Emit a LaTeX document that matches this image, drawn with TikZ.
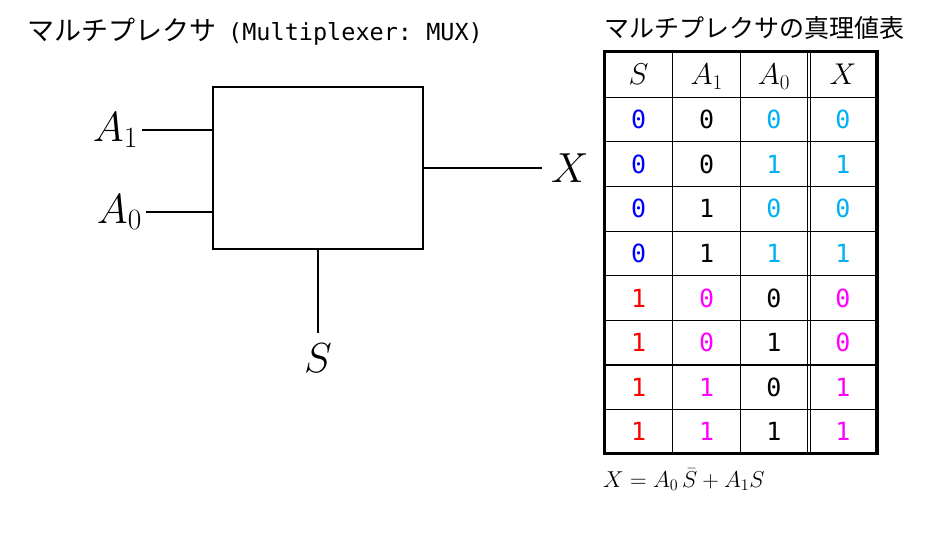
\RequirePackage{fix-cm}
\documentclass[tikz,border=0pt]{standalone}
\usepackage{fontspec}
\newfontfamily\jpfont{Noto Sans CJK JP}
\newfontfamily\bitfont{DejaVu Sans Mono}
\usepackage{xcolor}
\usepackage{tikz}
\usetikzlibrary{positioning, calc}

\definecolor{selblue}{RGB}{0,0,255}
\definecolor{skyblue}{RGB}{0,176,240}
\definecolor{selred}{RGB}{255,0,0}
\definecolor{inmag}{RGB}{255,0,255}

\begin{document}
\begin{tikzpicture}[
    x=1pt, y=-1pt,
    block/.style={draw, line width=2pt, minimum width=210pt, minimum height=162pt, inner sep=0pt},
    wire/.style={line width=1.5pt},
    sig/.style={font=\fontsize{42}{48}\selectfont, inner sep=4pt},
    title/.style={font=\jpfont\fontsize{27}{30}\selectfont, inner sep=0pt},
    head/.style={font=\fontsize{30}{34}\selectfont, inner sep=0pt},
    bit/.style={font=\bitfont\fontsize{25}{28}\selectfont, inner sep=0pt},
    grid/.style={line width=1.2pt},
    frame/.style={line width=3.5pt}
]
\useasboundingbox (0,0) rectangle (928,540);

% titles
\node[title, anchor=base west] (title) at (27,41) {マルチプレクサ\hspace{12pt}{\bitfont\fontsize{23.5}{28}\selectfont\frenchspacing (Multiplexer: MUX)}};
\node[title, font=\jpfont\fontsize{25}{30}\selectfont, anchor=base west] (tabtitle) at (604,38) {マルチプレクサの真理値表};

% MUX block
\node[block] (mux) at (318,168) {};

% inputs, output and select
\node[sig, anchor=east] (a1) at (142,130) {$A_1$};
\node[sig, anchor=east] (a0) at (146,212) {$A_0$};
\node[sig, anchor=west, inner xsep=9pt] (x) at (542,168) {$X$};
\node[sig, anchor=north, inner ysep=11pt] (s) at (318,333) {$S$};

\draw[wire] (a1.east) -- (a1.east -| mux.west);
\draw[wire] (a0.east) -- (a0.east -| mux.west);
\draw[wire] (mux.east) -- (x.west);
\draw[wire] (mux.south) -- (s.north);

% truth table grid
\foreach \k in {0,...,7}
    \draw[grid] (604.5,{97.3+\k*44.6}) -- (877,{97.3+\k*44.6});
\foreach \cx in {672.7,740.7,807,810}
    \draw[grid, line width=1pt] (\cx,51.7) -- (\cx,453.7);
\draw[frame] (604.5,51.7) rectangle (877,453.7);

% header
\node[head, anchor=base] (hs) at (638.6,85) {$S$};
\node[head, anchor=base] (ha1) at (706.7,85) {$A_1$};
\node[head, anchor=base] (ha0) at (774,85) {$A_0$};
\node[head, anchor=base] (hx) at (843,85) {$X$};

% rows
\foreach \vs/\va/\vb/\vx [count=\row] in {0/0/0/0, 0/0/1/1, 0/1/0/0, 0/1/1/1, 1/0/0/0, 1/0/1/0, 1/1/0/1, 1/1/1/1} {
    \ifnum\row<5
        \def\cs{selblue}\def\ca{black}\def\cb{skyblue}\def\cx{skyblue}
    \else
        \def\cs{selred}\def\ca{inmag}\def\cb{black}\def\cx{inmag}
    \fi
    \node[bit, text=\cs] (s-\row) at (638.6,{97.3+(\row-0.5)*44.6}) {\vs};
    \node[bit, text=\ca] (a1-\row) at (706.7,{97.3+(\row-0.5)*44.6}) {\va};
    \node[bit, text=\cb] (a0-\row) at (774,{97.3+(\row-0.5)*44.6}) {\vb};
    \node[bit, text=\cx] (x-\row) at (843,{97.3+(\row-0.5)*44.6}) {\vx};
}

% formula
\node[anchor=base west, font=\fontsize{23}{26}\selectfont, inner sep=0pt] (eq) at (603,487) {$X = A_0\,\bar{S} + A_1 S$};

\end{tikzpicture}
\end{document}
